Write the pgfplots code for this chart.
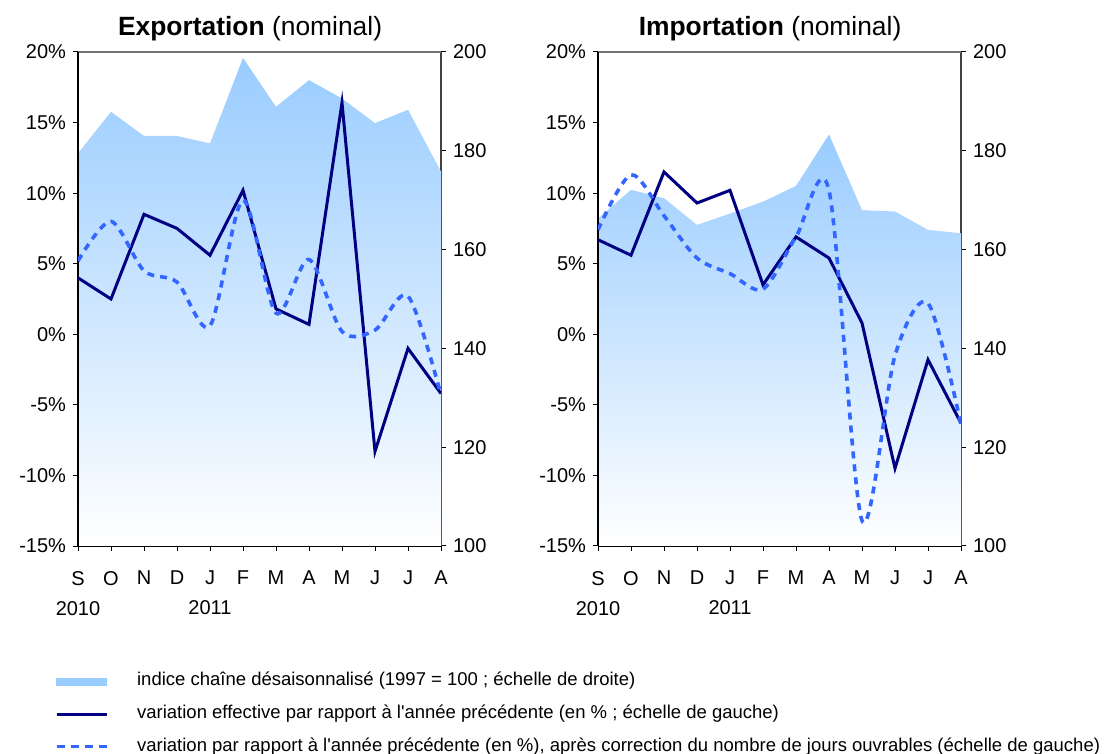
\documentclass[border=0pt]{standalone}
\usepackage{fontspec}
\setmainfont{Liberation Sans}
\usepackage{pgfplots}
\pgfplotsset{compat=1.18}
\usepackage{pgfplotstable}
\definecolor{areablue}{RGB}{153,204,255}
\definecolor{navy}{RGB}{0,0,128}
\definecolor{dashblue}{RGB}{51,102,255}

% area polygons (index, right scale)
\pgfplotstableread{
x idx
0 100
0 179.5
1 187.9
2 183.0
3 183.0
4 181.5
5 198.8
6 188.9
7 194.3
8 190.6
9 185.6
10 188.3
11 175.8
11 100
}\expidx
\pgfplotstableread{
x sol dash
0 4.0 5.2
1 2.5 8.0
2 8.5 4.5
3 7.5 3.7
4 5.6 0.6
5 10.2 9.5
6 1.8 1.5
7 0.7 5.3
8 16.4 0.2
9 -8.3 0.3
10 -1.0 2.7
11 -4.2 -4.3
}\exppct
\pgfplotstableread{
x idx
0 100
0 166.3
1 172.1
2 170.4
3 165.0
4 167.3
5 169.7
6 172.9
7 183.3
8 168.0
9 167.7
10 164.0
11 163.3
11 100
}\impidx
\pgfplotstableread{
x sol dash
0 6.7 7.4
1 5.6 11.3
2 11.5 8.4
3 9.3 5.4
4 10.2 4.3
5 3.5 3.2
6 6.9 6.9
7 5.4 10.2
8 0.8 -13.2
9 -9.5 -1.5
10 -1.8 2.2
11 -6.3 -6.4
}\imppct

\pgfplotsset{
  panel/.style={scale only axis, width=181.5bp, height=247bp, anchor=south west,
    xmin=0, xmax=11, tick align=outside, major tick length=2.5bp,
    tick style={black, line width=0.5bp},
    axis line style={line width=0.6bp},
    ticklabel style={font=\fontsize{10bp}{15bp}\selectfont}},
  idxaxis/.style={panel, ymin=100, ymax=200,
    axis x line*=bottom, axis y line*=right,
    xtick={0,...,11},
    xticklabels={{S\\2010},O,N,D,{J\\2011},F,M,A,M,J,J,A},
    xticklabel style={align=center, yshift=-6.5bp},
    ytick={100,120,140,160,180,200},
    yticklabels={100,120,140,160,180,200},
    y axis line style={draw=black!75}},
  pctaxis/.style={panel, ymin=-15, ymax=20,
    axis x line*=top, xtick=\empty, axis y line*=left,
    x axis line style={draw=black!55},
    ytick={-15,-10,-5,0,5,10,15,20},
    yticklabels={-15\%,-10\%,-5\%,0\%,5\%,10\%,15\%,20\%},
    title style={at={(0.474,1)}, anchor=base, yshift=2.5bp,
      font=\fontsize{13.2bp}{15bp}\selectfont}},
  areaplot/.style={draw=none, top color=areablue, bottom color=white},
  solplot/.style={navy, line width=1.5bp, line join=miter},
  dashplot/.style={dashblue, line width=1.8bp, dash pattern=on 3.5bp off 3bp, smooth},
}

\begin{document}
\begin{tikzpicture}
\useasboundingbox (0,0) rectangle (553.5bp,377bp);

% ---------- Exportation ----------
\begin{axis}[idxaxis, at={(39bp,104bp)}]
  \addplot[areaplot] table[x=x, y=idx] {\expidx};
\end{axis}
\begin{axis}[pctaxis, at={(39bp,104bp)},
  title={\textbf{Exportation} (nominal)},
  legend style={at={(-0.0634,-0.259)}, anchor=north west, draw=none, fill=none,
    inner sep=0pt, outer sep=0pt, row sep=8.8bp,
    font=\fontsize{9.25bp}{10bp}\selectfont,
    nodes={inner sep=0pt, text height=6bp, text depth=1.5bp}},
  legend cell align=left]
  \addplot[solplot, forget plot] table[x=x, y=sol] {\exppct};
  \addplot[dashplot, forget plot] table[x=x, y=dash] {\exppct};
  \addlegendimage{legend image code/.code={\fill[areablue] (0bp,-1.75bp) rectangle (25bp,1.75bp); \path (40bp,0bp);}}
  \addlegendentry{indice cha\^ine d\'esaisonnalis\'e (1997 = 100 ; \'echelle de droite)}
  \addlegendimage{legend image code/.code={\draw[navy, line width=1.5bp] (0bp,0bp) -- (25bp,0bp); \path (40bp,0bp);}}
  \addlegendentry{variation effective par rapport \`a l\textquotesingle ann\'ee pr\'ec\'edente (en \% ; \'echelle de gauche)}
  \addlegendimage{legend image code/.code={\draw[dashblue, line width=1.75bp, dash pattern=on 4bp off 3bp] (0bp,0bp) -- (25bp,0bp); \path (40bp,0bp);}}
  \addlegendentry{variation par rapport \`a l\textquotesingle ann\'ee pr\'ec\'edente (en \%), apr\`es correction du nombre de jours ouvrables (\'echelle de gauche)}
\end{axis}

% ---------- Importation ----------
\begin{axis}[idxaxis, at={(299bp,104bp)}]
  \addplot[areaplot] table[x=x, y=idx] {\impidx};
\end{axis}
\begin{axis}[pctaxis, at={(299bp,104bp)},
  title={\textbf{Importation} (nominal)}]
  \addplot[solplot] table[x=x, y=sol] {\imppct};
  \addplot[dashplot] table[x=x, y=dash] {\imppct};
\end{axis}
\end{tikzpicture}
\end{document}
